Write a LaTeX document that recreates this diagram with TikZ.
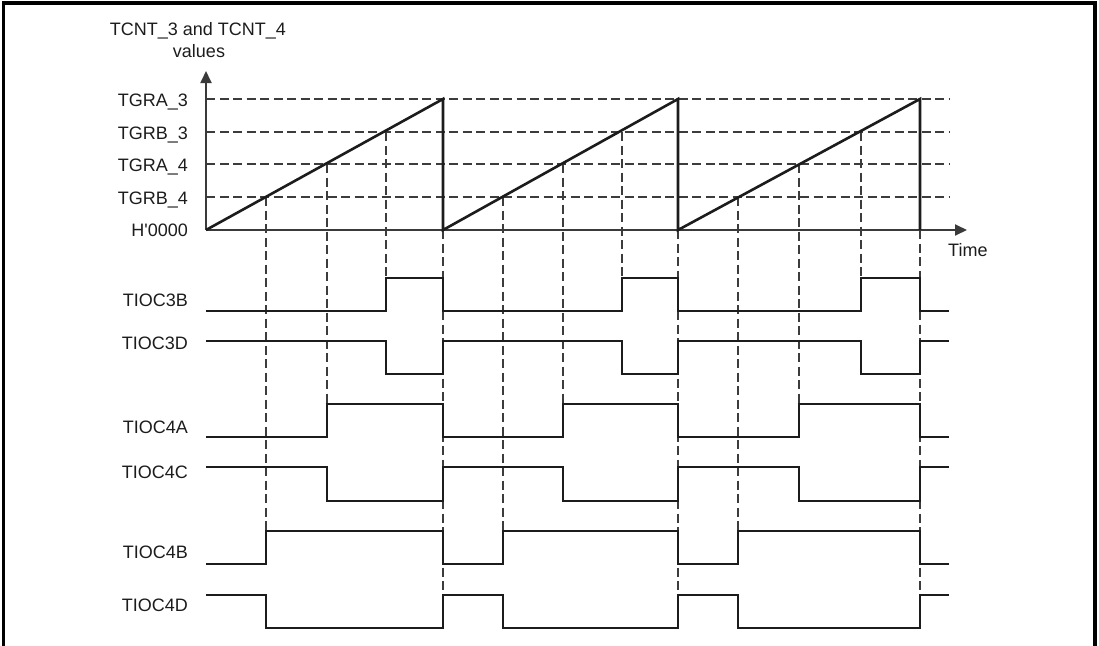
\documentclass[tikz,border=0pt]{standalone}
\usepackage{fontspec}
\setmainfont{Liberation Sans}
\usetikzlibrary{arrows.meta}
\definecolor{ink}{HTML}{1C1C1C}
\definecolor{axisgray}{HTML}{3A3A3A}
\definecolor{dashgray}{HTML}{3C3C3C}
\newcommand\tdwave[3]{\draw[sig] (206,#2) \foreach \c/\e in {#1} { -- (\c,#2) -- (\c,#3) -- (\e,#3) -- (\e,#2) } -- (949,#2);}
\begin{document}
\begin{tikzpicture}[x=1pt,y=-1pt,
  sig/.style={draw=ink, line width=2.6pt, line join=miter},
  ramp/.style={draw=ink, line width=2.6pt, line join=miter},
  guide/.style={draw=dashgray, line width=1.1pt, dash pattern=on 9pt off 4.5pt},
  axisline/.style={draw=axisgray, line width=1.8pt, -{Triangle[length=12pt,width=11pt]}},
  lbl/.style={font=\fontsize{18}{21.6}\selectfont, text=ink, inner sep=0pt},
  frameline/.style={draw=black, line width=3.2pt},
]
\useasboundingbox (0,0) rectangle (1099,645);
% frame (open at the bottom)
\draw[frameline] (3.2,660) -- (3.2,3) -- (1095,3) -- (1095,660);

% horizontal guides
\foreach \y in {99,132,164,197} { \draw[guide] (206,\y) -- (949,\y); }

% vertical guides
\foreach \x in {266,503,738} { \draw[guide] (\x,197) -- (\x,531); }
\foreach \x in {327,563,799} { \draw[guide] (\x,164) -- (\x,404); }
\foreach \x in {386,622,861} { \draw[guide] (\x,132) -- (\x,278); }
\foreach \x in {443,678,920} { \draw[guide] (\x,230) -- (\x,628); }

% axes
\coordinate (O) at (206,230);
\coordinate (ytip) at (206,71);
\coordinate (xtip) at (967,230);
\draw[axisline] (O) -- (ytip);
\draw[axisline] (O) -- (xtip);

% sawtooth
\draw[ramp] (O) -- (443,99) -- (443,230) -- (678,99) -- (678,230) -- (920,99) -- (920,230);

% waveforms
\tdwave{386/443,622/678,861/920}{311}{278}
\tdwave{386/443,622/678,861/920}{341}{374}
\tdwave{327/443,563/678,799/920}{437}{404}
\tdwave{327/443,563/678,799/920}{467}{501}
\tdwave{266/443,503/678,738/920}{564}{531}
\tdwave{266/443,503/678,738/920}{595}{628}

% labels
\node[lbl, anchor=base] (title1) at (198,35.7) {TCNT\_3 and TCNT\_4};
\node[lbl, anchor=base] (title2) at (199,57.3) {values};
\node[lbl, anchor=base east] (lA3) at (188,106.7) {TGRA\_3};
\node[lbl, anchor=base east] (lB3) at (188,139.3) {TGRB\_3};
\node[lbl, anchor=base east] (lA4) at (188,171) {TGRA\_4};
\node[lbl, anchor=base east] (lB4) at (188,204) {TGRB\_4};
\node[lbl, anchor=base east] (lH) at (188,236) {H\textquotesingle 0000};
\node[lbl, anchor=base west] (ltime) at (948,256) {Time};

\node[lbl, anchor=base east] (s3B) at (188,306) {TIOC3B};
\node[lbl, anchor=base east] (s3D) at (188,349) {TIOC3D};
\node[lbl, anchor=base east] (s4A) at (188,433) {TIOC4A};
\node[lbl, anchor=base east] (s4C) at (188,478) {TIOC4C};
\node[lbl, anchor=base east] (s4B) at (188,558) {TIOC4B};
\node[lbl, anchor=base east] (s4D) at (188,611) {TIOC4D};
\end{tikzpicture}
\end{document}
